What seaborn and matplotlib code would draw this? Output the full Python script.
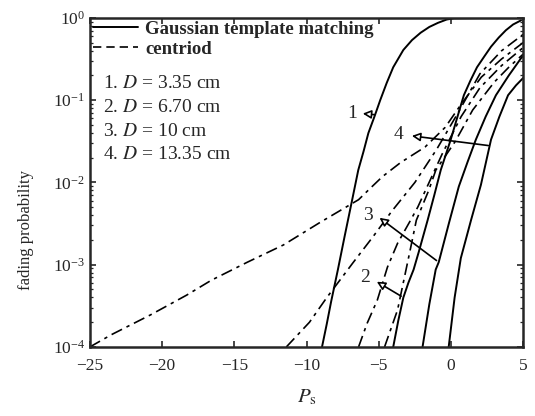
import numpy as np
import matplotlib
matplotlib.use("Agg")
import matplotlib.pyplot as plt
import seaborn as sns
from matplotlib.lines import Line2D
from matplotlib.ticker import LogLocator, FixedLocator

# ---- data (x = P_s, y = log10 fading probability) ----
# Gaussian template matching (solid)
s1_x = [-8.93, -8.6, -8.3, -7.83, -7.37, -6.84, -6.42, -6.05, -5.72, -5.3, -4.9, -4.45,
        -4.0, -3.3, -2.7, -2.1, -1.5, -0.9, -0.3, 0.2, 2.0, 5.0]
s1_y = [-4.0, -3.72, -3.45, -3.06, -2.66, -2.21, -1.85, -1.62, -1.40, -1.2, -1.0, -0.79,
        -0.6, -0.39, -0.27, -0.18, -0.11, -0.06, -0.02, -0.005, -0.002, -0.002]
s2_x = [-4.0, -3.65, -3.3, -2.95, -2.59, -2.24, -1.62, -1.15, -0.71, -0.02, 0.45, 0.89, 1.35, 1.8, 2.3, 2.77, 3.3, 3.8, 4.3, 4.85]
s2_y = [-4.0, -3.68, -3.4, -3.22, -3.06, -2.85, -2.46, -2.15, -1.85, -1.48, -1.2, -0.94, -0.76, -0.6, -0.47, -0.35, -0.24, -0.15, -0.08, -0.03]
s3_x = [-1.97, -1.5, -1.06, -0.85, -0.15, 0.54, 1.15, 1.72, 2.4, 3.11, 4.0, 4.85, 5.0]
s3_y = [-4.0, -3.48, -3.06, -2.97, -2.5, -2.05, -1.75, -1.48, -1.2, -0.94, -0.7, -0.49, -0.46]
s4_x = [-0.16, 0.25, 0.68, 1.4, 2.07, 2.77, 3.35, 3.95, 4.5, 5.0]
s4_y = [-4.0, -3.4, -2.92, -2.45, -2.03, -1.48, -1.2, -0.94, -0.82, -0.73]

# centroid (dashed)
c1_x = [-25.0, -23.5, -20.8, -18.3, -16.6, -14.1, -11.6, -9.1, -6.4, -5.7, -4.75, -3.5, -1.8, -0.4, 0.7, 2.1, 3.5, 5.0]
c1_y = [-4.0, -3.85, -3.61, -3.37, -3.19, -2.97, -2.76, -2.49, -2.21, -2.09, -1.93, -1.76, -1.57, -1.33, -1.05, -0.72, -0.5, -0.3]
c2_x = [-11.4, -9.8, -8.6, -6.8, -5.4, -4.1, -2.5, -1.0, 0.5, 2.0, 3.5, 5.0]
c2_y = [-4.0, -3.7, -3.4, -2.98, -2.66, -2.35, -2.0, -1.6, -1.15, -0.68, -0.4, -0.2]
c3_x = [-6.4, -5.8, -5.1, -4.4, -3.7, -2.8, -2.3, -0.6, 0.7, 2.0, 3.5, 5.0]
c3_y = [-4.0, -3.71, -3.43, -3.03, -2.74, -2.46, -2.3, -1.65, -1.2, -0.85, -0.58, -0.36]
c4_x = [-4.6, -3.7, -2.8, -2.4, -1.55, -1.05, 0.3, 1.5, 3.0, 4.0, 5.0]
c4_y = [-4.0, -3.55, -2.8, -2.46, -2.1, -1.85, -1.5, -1.12, -0.78, -0.6, -0.44]

legend_lines = ["1. $D$ = 3.35 cm", "2. $D$ = 6.70 cm", "3. $D$ = 10 cm", "4. $D$ = 13.35 cm"]

sns.set_style("ticks")
plt.rcParams['font.family'] = ['Liberation Serif', 'DejaVu Serif']
plt.rcParams['mathtext.fontset'] = 'stix'

fig = plt.figure(figsize=(5.35, 4.16), dpi=100)
ax = fig.add_axes([0.168, 0.166, 0.81, 0.791])

dash = (0, (7, 3, 2, 3))
for xs, ys in [(s1_x, s1_y), (s2_x, s2_y), (s3_x, s3_y), (s4_x, s4_y)]:
    sns.lineplot(x=xs, y=10 ** np.array(ys), ax=ax, color='black', linewidth=1.4,
                 sort=False, estimator=None)
for xs, ys in [(c1_x, c1_y), (c2_x, c2_y), (c3_x, c3_y), (c4_x, c4_y)]:
    sns.lineplot(x=xs, y=10 ** np.array(ys), ax=ax, color='black', linewidth=1.2,
                 linestyle=dash, sort=False, estimator=None)

ax.set_yscale('log')
ax.set_xlim(-25, 5)
ax.set_ylim(1e-4, 1)
ax.xaxis.set_major_locator(FixedLocator([-25, -20, -15, -10, -5, 0, 5]))
ax.yaxis.set_major_locator(LogLocator(base=10, numticks=10))
ax.yaxis.set_minor_locator(LogLocator(base=10, subs=np.arange(2, 10), numticks=20))
ax.tick_params(which='both', direction='in', top=True, right=True, labelsize=12.5)
ax.tick_params(axis='x', pad=8)
ax.tick_params(which='major', length=4, width=1.2)
ax.tick_params(which='minor', length=2.5, width=0.9)
for sp in ax.spines.values():
    sp.set_linewidth(1.8)
    sp.set_visible(True)

ax.set_xlabel("$P_\\mathrm{s}$", fontsize=15, labelpad=10)
ax.set_ylabel("fading probability", fontsize=12)
ax.yaxis.set_label_coords(-0.128, 0.356)

# legend
handles = [Line2D([], [], color='black', linewidth=1.4),
           Line2D([], [], color='black', linewidth=1.2, linestyle=(0, (5, 3)))]
ax.legend(handles, ["Gaussian template matching", "centriod"], loc='upper left',
          frameon=False, prop={'weight': 'bold', 'size': 13.5}, handlelength=2.4,
          handletextpad=0.4, borderaxespad=0.0, borderpad=0.15, labelspacing=0.15)
for i, t in enumerate(legend_lines):
    ax.text(0.03, 0.80 - i * 0.072, t, transform=ax.transAxes, fontsize=14, va='center')

# curve labels with pointer lines
labels = [("1", -6.84, -1.16, -5.1, -1.18, -6.3, -1.16),
          ("4", -3.64, -1.42, 2.77, -1.556, -2.9, -1.43),
          ("3", -5.72, -2.40, -0.85, -2.97, -5.1, -2.41),
          ("2", -5.93, -3.16, -3.29, -3.40, -5.3, -3.19)]
for name, tx, ty, px, py, hx, hy in labels:
    ax.text(tx, 10 ** ty, name, fontsize=14, ha='center', va='center')
    ax.annotate('', xy=(hx, 10 ** hy), xytext=(px, 10 ** py),
                arrowprops=dict(arrowstyle='-|>,head_length=0.5,head_width=0.25',
                                color='black', lw=1.2, fc='white'))

fig.savefig("out.png", dpi=100)
